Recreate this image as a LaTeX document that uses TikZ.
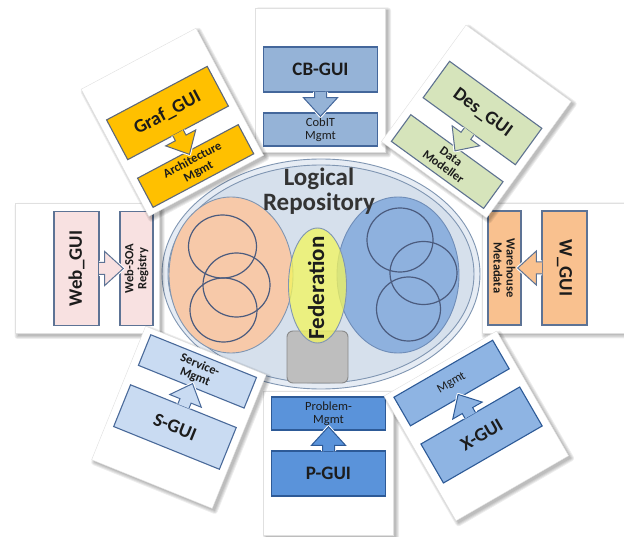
\documentclass[tikz,border=0pt]{standalone}
\usepackage{fontspec}
\setmainfont{Carlito}
\usetikzlibrary{calc}

\definecolor{inkdark}{HTML}{1C1C1C}
\definecolor{ringline}{HTML}{8096B2}
\definecolor{ringfill}{HTML}{E6ECF4}
\definecolor{repofill}{HTML}{D6E0EC}
\definecolor{peach}{HTML}{F7C9A9}
\definecolor{skyblue}{HTML}{8EB1DE}
\definecolor{skyline}{HTML}{6F8DB8}
\definecolor{loopline}{HTML}{4B5B7E}
\definecolor{fedyellow}{HTML}{F3F65C}
\definecolor{stone}{HTML}{BEBEBE}
\definecolor{stoneline}{HTML}{8A8A8A}

\definecolor{cbfill}{HTML}{95B3D7}   \definecolor{cbline}{HTML}{44679B}
\definecolor{webfill}{HTML}{F8E1E1}  \definecolor{webline}{HTML}{5D7395}
\definecolor{wfill}{HTML}{F9C18F}    \definecolor{wline}{HTML}{5D7395}
\definecolor{pfill}{HTML}{5A93DA}    \definecolor{pline}{HTML}{2D5A97}
\definecolor{graffill}{HTML}{FFC000} \definecolor{grafline}{HTML}{5E6878}
\definecolor{desfill}{HTML}{D6E4BB}  \definecolor{desline}{HTML}{5E7290}
\definecolor{sfill}{HTML}{C9DBF2}    \definecolor{sline}{HTML}{4A6A9A}
\definecolor{xfill}{HTML}{8EB4E3}    \definecolor{xline}{HTML}{2D5A97}

\newcommand{\guifont}{\fontsize{19}{21}\selectfont\bfseries}
\newcommand{\mgmtfont}{\fontsize{12.5}{13}\selectfont}

\tikzset{
  cardbox/.style={draw=black!12, fill=white, line width=0.4pt,
    minimum width=130pt, minimum height=144pt, inner sep=0pt},
  guibox/.style={line width=1.1pt, minimum width=114pt, minimum height=45pt,
    inner sep=0pt, font=\guifont, text=inkdark},
  mgmtbox/.style={line width=1.1pt, minimum width=114pt, minimum height=33pt,
    inner sep=0pt, font=\mgmtfont, align=center, text=inkdark},
  loop/.style={draw=loopline, line width=1.2pt},
}

% A satellite card: #1 name, #2 x, #3 y (measured downwards), #4 angle,
% #5 fill, #6 stroke, #7 GUI label, #8 management label, #9 extra text turn
\newcommand{\guicard}[9]{%
  \begin{scope}[shift={(#2+2.5,-#3-2.5)}, rotate=#4]
    \foreach \e in {3,2,1,0}
      \fill[black, opacity=0.07, rounded corners=\e pt]
        (-65-\e,-72-\e) rectangle (65+\e,72+\e);
  \end{scope}
  \begin{scope}[shift={(#2,-#3)}, rotate=#4, transform shape]
    \node[cardbox] (#1card) at (0,0) {};
    \node[mgmtbox, fill=#5, draw=#6, rotate=#9] (#1mgmt) at (0,-49.5) {#8};
    \node[guibox, fill=#5, draw=#6, rotate=#9] (#1gui) at (0,10.5) {#7};
  \end{scope}
  % block arrow from the GUI box into the management box
  \coordinate (#1base) at ($(#1gui.center)!0.375!(#1mgmt.center)$);
  \coordinate (#1neck) at ($(#1gui.center)!0.47!(#1mgmt.center)$);
  \coordinate (#1tip)  at ($(#1gui.center)!0.78!(#1mgmt.center)$);
  \coordinate (#1la) at ($(#1base)!6pt!90:(#1tip)$);
  \coordinate (#1lb) at ($(#1neck)!6pt!90:(#1tip)$);
  \coordinate (#1lc) at ($(#1neck)!17pt!90:(#1tip)$);
  \coordinate (#1ra) at ($(#1base)!6pt!-90:(#1tip)$);
  \coordinate (#1rb) at ($(#1neck)!6pt!-90:(#1tip)$);
  \coordinate (#1rc) at ($(#1neck)!17pt!-90:(#1tip)$);
  \draw[white, line width=3pt, line join=round]
    (#1la) -- (#1lb) -- (#1lc) -- (#1tip) -- (#1rc) -- (#1rb) -- (#1ra);
  \fill[#5] (#1la) -- (#1lb) -- (#1lc) -- (#1tip) -- (#1rc) -- (#1rb) -- (#1ra) -- cycle;
  \draw[#6, line width=1pt, line join=miter]
    (#1la) -- (#1lb) -- (#1lc) -- (#1tip) -- (#1rc) -- (#1rb) -- (#1ra);
}

\begin{document}
\begin{tikzpicture}[x=1pt, y=1pt]
  \useasboundingbox (0,0) rectangle (624,-537);
  \fill[white] (0,0) rectangle (624,-537);
  \clip (0,0) rectangle (624,-537);

  % the repository: double ring
  \draw[ringline, line width=0.9pt, fill=ringfill] (321,-274) ellipse [x radius=159, y radius=115];
  \draw[ringline, line width=0.9pt, fill=repofill] (321,-274) ellipse [x radius=153, y radius=109];

  % the two stores
  \draw[ringline, line width=0.9pt, fill=peach] (231,-275) ellipse [x radius=62, y radius=78];
  \draw[skyline, line width=0.9pt, fill=skyblue] (398,-275) ellipse [x radius=61, y radius=78];

  \draw[loop] (222.5,-246.5) ellipse [x radius=34, y radius=31.5];
  \draw[loop] (236.5,-285) ellipse [x radius=33.5, y radius=32];
  \draw[loop] (223.5,-310) ellipse [x radius=33.5, y radius=32];

  \draw[loop] (400,-240) ellipse [x radius=33, y radius=32];
  \draw[loop] (423.5,-273) ellipse [x radius=33.5, y radius=31.5];
  \draw[loop] (408.5,-309) ellipse [x radius=32, y radius=32];

  % federation
  \draw[stoneline, line width=0.9pt, fill=stone, rounded corners=6pt]
    (287,-331) rectangle (348,-383);
  \draw[ringline, line width=0.9pt, fill=fedyellow, fill opacity=0.75]
    (317.5,-285.5) ellipse [x radius=29, y radius=57.5];
  \node[rotate=90, font=\fontsize{23}{25}\selectfont\bfseries, text=inkdark]
    (fedlabel) at (316,-288) {Federation};

  \node[align=center, font=\fontsize{25}{25}\selectfont\bfseries, text=inkdark!90]
    (repolabel) at (319,-191) {Logical\\Repository};

  % satellite cards
  \guicard{cb}{320.5}{80}{0}{cbfill}{cbline}{CB-GUI}{CobIT\\Mgmt}{0}
  \guicard{w}{554}{268}{-90}{wfill}{wline}{W\_GUI}{\textbf{Warehouse}\\\textbf{Metadata}}{0}
  \guicard{p}{328.5}{463}{180}{pfill}{pline}{P-GUI}{Problem-\\Mgmt}{180}
  \guicard{web}{87}{268.5}{90}{webfill}{webline}{Web\_GUI}{\textbf{Web-SOA}\\\textbf{Registry}}{0}
  \guicard{des}{476.3}{121.5}{-36}{desfill}{desline}{Des\_GUI}{\textbf{Data}\\\textbf{Modeller}}{0}
  \guicard{x}{476.3}{425.9}{-150}{xfill}{xline}{X-GUI}{Mgmt}{180}
  \guicard{s}{178.9}{417.3}{158}{sfill}{sline}{S-GUI}{\textbf{Service-}\\\textbf{Mgmt}}{180}
  \guicard{graf}{172.4}{122.3}{28}{graffill}{grafline}{Graf\_GUI}{\textbf{Architecture}\\\textbf{Mgmt}}{0}
\end{tikzpicture}
\end{document}
